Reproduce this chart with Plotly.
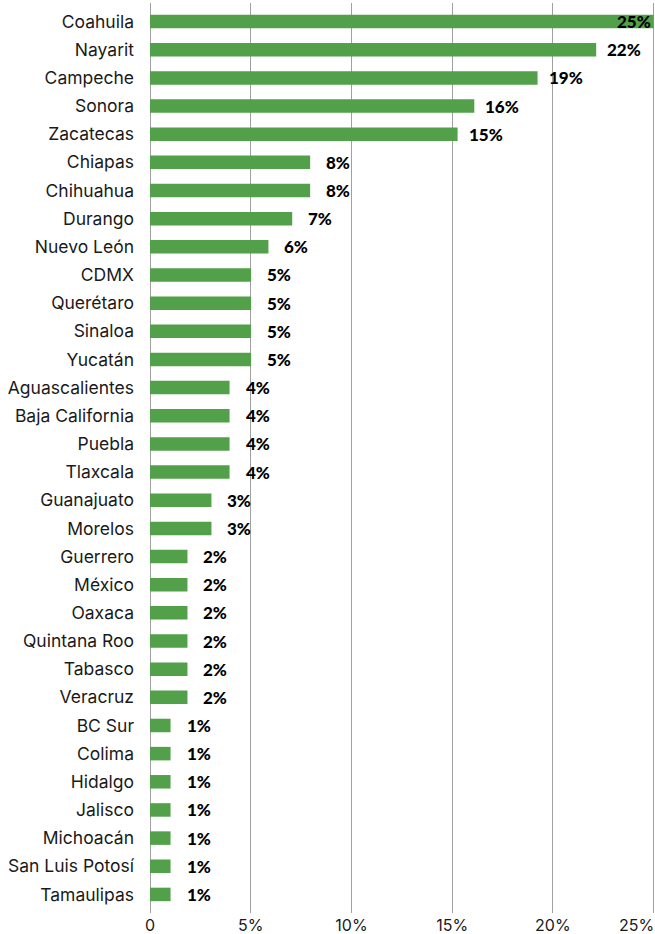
import plotly.graph_objects as go

states = ["Coahuila", "Nayarit", "Campeche", "Sonora", "Zacatecas", "Chiapas", "Chihuahua",
          "Durango", "Nuevo León", "CDMX", "Querétaro", "Sinaloa", "Yucatán", "Aguascalientes",
          "Baja California", "Puebla", "Tlaxcala", "Guanajuato", "Morelos", "Guerrero", "México",
          "Oaxaca", "Quintana Roo", "Tabasco", "Veracruz", "BC Sur", "Colima", "Hidalgo",
          "Jalisco", "Michoacán", "San Luis Potosí", "Tamaulipas"]
values = [25.0, 22.15, 19.24, 16.1, 15.27, 7.95, 7.95, 7.06, 5.88, 5.02, 5.02, 5.02, 5.02,
          3.95, 3.95, 3.95, 3.95, 3.05, 3.05, 1.86, 1.86, 1.86, 1.86, 1.86, 1.86,
          1.02, 1.02, 1.02, 1.02, 1.02, 1.02, 1.02]
labels = ["25%", "22%", "19%", "16%", "15%", "8%", "8%", "7%", "6%", "5%", "5%", "5%", "5%",
          "4%", "4%", "4%", "4%", "3%", "3%", "2%", "2%", "2%", "2%", "2%", "2%",
          "1%", "1%", "1%", "1%", "1%", "1%", "1%"]
tick_vals = [0, 5, 10, 15, 20, 25]
tick_text = ["0", "5%", "10%", "15%", "20%", ""]

n = len(states)
fig = go.Figure(go.Bar(
    x=values, y=states, orientation="h",
    marker=dict(color="#53a04a", line=dict(width=0)),
    width=0.48, hoverinfo="skip",
))

vfont = dict(family="Lato", size=17, color="#000", weight=900)
vmax = max(values)
for s, v, t in zip(states, values, labels):
    if v == vmax:
        fig.add_annotation(x=v, y=s, text=t, showarrow=False, xanchor="right", xshift=-1,
                           font=vfont)
    else:
        fig.add_annotation(x=v, y=s, text=t, showarrow=False, xanchor="center", xshift=28,
                           font=vfont)

# last tick label right-aligned at plot edge
fig.add_annotation(x=1, y=0, xref="paper", yref="paper", text="25%", showarrow=False,
                   xanchor="right", yanchor="top", yshift=-1, borderpad=0,
                   font=dict(family="Inter", size=16, color="#1a1a1a"))

fig.update_layout(
    width=655, height=934,
    margin=dict(l=150, r=0, t=3, b=21, autoexpand=False),
    plot_bgcolor="white", paper_bgcolor="white",
    showlegend=False,
    font=dict(family="Inter", size=17, color="#1a1a1a"),
    xaxis=dict(range=[0, 25.07], tickvals=tick_vals, ticktext=tick_text,
               showgrid=True, gridcolor="#a0a0a0", gridwidth=1.2,
               zeroline=True, zerolinecolor="#a0a0a0", zerolinewidth=1.2,
               showline=False, ticks="", automargin=False, ticklabelstandoff=1,
               tickfont=dict(family="Inter", size=16, color="#1a1a1a")),
    yaxis=dict(categoryorder="array", categoryarray=states,
               range=[n - 1 + 0.66, -0.66], showgrid=False, zeroline=False,
               ticks="", ticklabelstandoff=15, automargin=False,
               tickfont=dict(family="Inter", size=17.5, color="#1a1a1a")),
)

fig.write_html("out.html", config={"displayModeBar": False},
               post_script="document.body.style.margin='0';document.body.style.overflow='hidden';")
